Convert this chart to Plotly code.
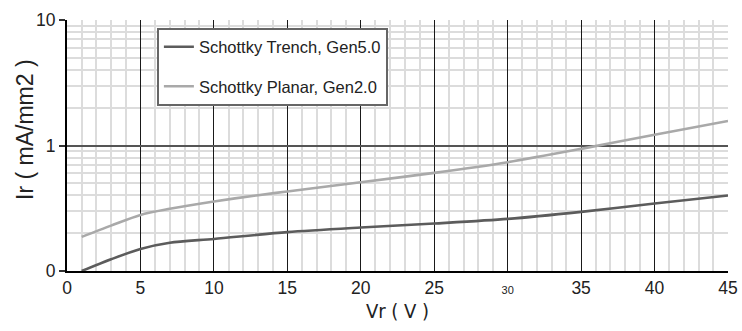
import plotly.graph_objects as go

vr_trench = [1.0, 3, 5, 7, 10, 15, 20, 25, 30, 35, 40, 45]
ir_trench = [0.100, 0.124, 0.150, 0.168, 0.180, 0.204, 0.222, 0.239, 0.260, 0.296, 0.345, 0.400]

vr_planar = [1.0, 3, 5, 7, 10, 13, 15, 20, 25, 30, 35, 40, 45]
ir_planar = [0.187, 0.230, 0.280, 0.313, 0.358, 0.402, 0.430, 0.510, 0.605, 0.736, 0.940, 1.22, 1.57]

x_ticks = [0, 5, 10, 15, 20, 25, 30, 35, 40, 45]
x_ticktext = ["0", "5", "10", "15", "20", "25", "<span style='font-size:11px'>30</span>", "35", "40", "45"]
y_ticks = [0.1, 1, 10]
y_ticktext = ["0", "1", "10"]

x_minor = [v for v in range(0, 46) if v % 5 != 0]
y_minor = [m * d for d in (0.1, 1) for m in range(2, 10)]

fig = go.Figure()
fig.add_trace(go.Scatter(x=vr_trench, y=ir_trench, mode="lines", name="Schottky Trench, Gen5.0",
                         line=dict(color="#5c5c5c", width=2.6, shape="spline", smoothing=0.8),
                         legendgroup="a"))
fig.add_trace(go.Scatter(x=vr_planar, y=ir_planar, mode="lines", name="Schottky Planar, Gen2.0",
                         line=dict(color="#a9a9a9", width=2.6, shape="spline", smoothing=0.8),
                         legendgroup="b"))

tick_font = dict(family="Liberation Sans, Arial", size=17.5, color="#222")

fig.update_layout(
    width=742, height=331,
    margin=dict(l=67, r=14, t=20, b=60),
    plot_bgcolor="white", paper_bgcolor="white",
    showlegend=True,
    legend=dict(x=0.136, y=0.97, xanchor="left", yanchor="top",
                bgcolor="white", bordercolor="#666", borderwidth=2,
                font=dict(family="Liberation Sans, Arial", size=16.5, color="#222"),
                tracegroupgap=15),
    xaxis=dict(range=[0, 45], tickvals=x_ticks, ticktext=x_ticktext, automargin=False,
               showgrid=True, gridcolor="#1a1a1a", gridwidth=1,
               minor=dict(tickvals=x_minor, showgrid=True, gridcolor="#dcdcdc", gridwidth=1.5),
               showline=True, linecolor="black", linewidth=2,
               ticks="", tickfont=tick_font, zeroline=False,
               title=dict(text="Vr ( V )", font=dict(family="DejaVu Sans Condensed, Liberation Sans", size=20, color="#222"), standoff=7)),
    yaxis=dict(type="log", range=[-1, 1], tickvals=y_ticks, ticktext=y_ticktext, automargin=False,
               showgrid=True, gridcolor="#555", gridwidth=1.5,
               minor=dict(tickvals=y_minor, showgrid=True, gridcolor="#dcdcdc", gridwidth=1.5),
               showline=True, linecolor="black", linewidth=2,
               ticks="outside", ticklen=6, tickcolor="#333", tickwidth=1.5,
               tickfont=tick_font, zeroline=False),
    annotations=[dict(text="Ir ( mA/mm2 )", textangle=-90, xref="paper", yref="paper",
                      x=-0.0635, y=0.562, xanchor="center", yanchor="middle", showarrow=False,
                      font=dict(family="Liberation Sans, Arial", size=23, color="#222"))],
)

fig.write_html("out.html", config={"displayModeBar": False},
               post_script="document.body.style.margin='0';document.body.style.padding='0';document.body.style.overflow='hidden';")
